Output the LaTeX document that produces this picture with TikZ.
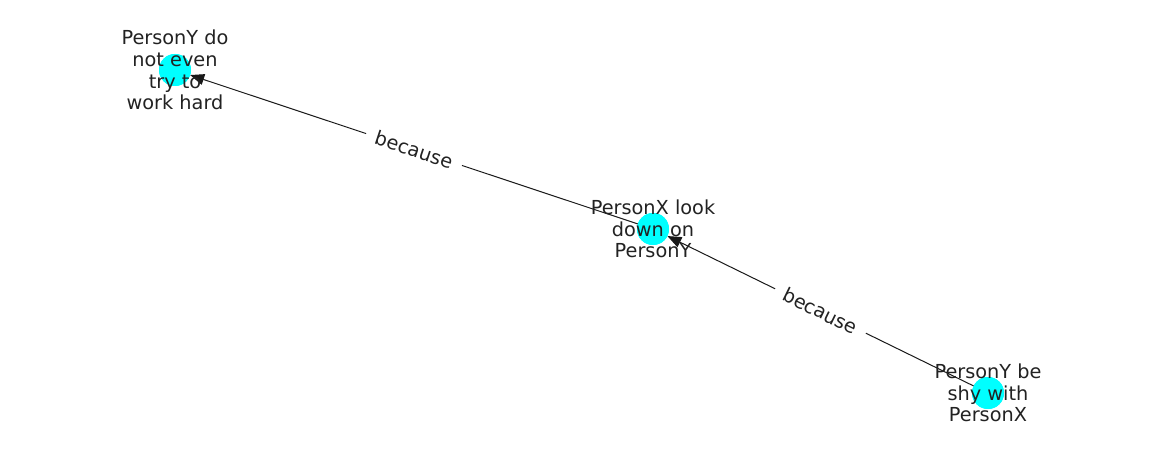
\documentclass[tikz,border=0pt]{standalone}
\usepackage{fontspec}
\setmainfont{DejaVu Sans}
\usetikzlibrary{arrows.meta}
\definecolor{txt}{HTML}{222222}
\definecolor{nodecyan}{RGB}{0,255,255}
\tikzset{
  dot/.style={circle, fill=nodecyan, minimum size=32pt, inner sep=0pt, outer sep=0pt},
  lbl/.style={align=center, text=txt, font=\fontsize{19.3pt}{21.7pt}\selectfont, inner sep=0pt},
  edge/.style={draw=black!90, line width=1pt, -{Triangle[length=14pt,width=11pt]}},
  elbl/.style={sloped, fill=white, text=txt, font=\fontsize{19.3pt}{21.7pt}\selectfont, inner xsep=10pt, inner ysep=3pt}
}
\begin{document}
\begin{tikzpicture}[x=1pt,y=-1pt]
\useasboundingbox (0,0) rectangle (1162,462);
\node[dot] (n1) at (175,70) {};
\node[dot] (n2) at (653,229) {};
\node[dot] (n3) at (988,393) {};
\path[edge] (n2) -- node[elbl] (e1) {because} (n1);
\path[edge] (n3) -- node[elbl] (e2) {because} (n2);
\node[dot] at (n1) {};
\node[dot] at (n2) {};
\node[dot] at (n3) {};
\node[lbl] (t1) at (175,70) {PersonY do\\not even\\try to\\work hard};
\node[lbl] (t2) at (653,229) {PersonX look\\down on\\PersonY};
\node[lbl] (t3) at (988,393) {PersonY be\\shy with\\PersonX};
\end{tikzpicture}
\end{document}
